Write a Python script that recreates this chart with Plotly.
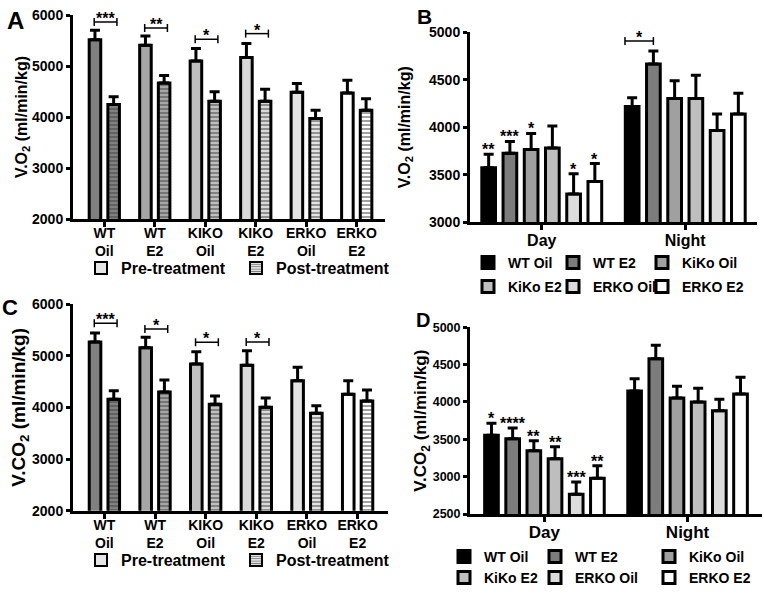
import plotly.graph_objects as go

# ---------------- data ----------------
groups_ac = ["WT<br>Oil", "WT<br>E2", "KIKO<br>Oil", "KIKO<br>E2", "ERKO<br>Oil", "ERKO<br>E2"]

vo2_pre = [5517, 5406, 5100, 5165, 4486, 4473]
vo2_pre_err = [183, 183, 241, 274, 170, 248]
vo2_post = [4245, 4669, 4310, 4310, 3970, 4134]
vo2_post_err = [150, 143, 183, 235, 164, 222]
vo2_sig = ["***", "**", "*", "*"]
vo2_sig_y = [5863, 5745, 5524, 5635]

vco2_pre = [5265, 5155, 4839, 4813, 4516, 4252]
vco2_pre_err = [174, 200, 238, 284, 258, 264]
vco2_post = [4155, 4297, 4058, 4000, 3884, 4123]
vco2_post_err = [168, 232, 161, 181, 148, 212]
vco2_sig = ["***", "*", "*", "*"]
vco2_sig_y = [5626, 5516, 5258, 5265]

periods = ["Day", "Night"]
genotypes = ["WT Oil", "WT E2", "KiKo Oil", "KiKo E2", "ERKO Oil", "ERKO E2"]

vo2_day = [3573, 3728, 3767, 3781, 3299, 3429]
vo2_day_err = [144, 123, 168, 232, 211, 190]
vo2_night = [4218, 4667, 4302, 4302, 3965, 4140]
vo2_night_err = [94, 137, 189, 245, 175, 218]
vo2_day_sig = ["**", "***", "*", "", "*", "*"]
vo2_night_sig = ["*"]
vo2_night_sig_y = [4909]

vco2_day = [3554, 3509, 3348, 3241, 2763, 2978]
vco2_day_err = [160, 143, 134, 161, 166, 169]
vco2_night = [4147, 4580, 4054, 4000, 3884, 4107]
vco2_night_err = [165, 179, 156, 183, 152, 223]
vco2_day_sig = ["*", "****", "**", "**", "***", "**"]

# ---------------- styles ----------------
FONT = "Liberation Sans, Arial, sans-serif"
pre_colors = ["#808080", "#a6a6a6", "#c0c0c0", "#d9d9d9", "#e4e4e4", "#ffffff"]
geno_colors = ["#000000", "#7c7c7c", "#a0a0a0", "#bebebe", "#dcdcdc", "#ffffff"]
AC_W, AC_SHIFT = 0.229, 0.185
BD_SLOT, BD_W = 0.148, 0.0955
W, H = 764, 596


def px(v):
    return v / W


def py(v):
    return 1 - v / H


fig = go.Figure()
idx = list(range(len(groups_ac)))


def err(arr, th=3, w=5):
    return dict(type="data", array=arr, arrayminus=[0] * len(arr), symmetric=False,
                color="black", thickness=th, width=w, visible=True)


def add_ac(xa, ya, pre, pre_err, post, post_err, legend):
    fig.add_trace(go.Bar(x=idx, y=pre, xaxis=xa, yaxis=ya, width=AC_W, offset=-AC_SHIFT - AC_W / 2,
                         marker=dict(color=pre_colors, line=dict(color="black", width=3)),
                         error_y=err(pre_err), showlegend=False, name="Pre-treatment"))
    fig.add_trace(go.Bar(x=idx, y=post, xaxis=xa, yaxis=ya, width=AC_W, offset=AC_SHIFT - AC_W / 2,
                         marker=dict(color=pre_colors, line=dict(color="black", width=3),
                                     pattern=dict(shape="-", fgcolor="black", bgcolor=pre_colors,
                                                  size=4, solidity=0.5)),
                         error_y=err(post_err), showlegend=False, name="Post-treatment"))
    # legend swatches
    fig.add_trace(go.Bar(x=[None], y=[None], xaxis=xa, yaxis=ya, name="Pre-treatment", legend=legend,
                         marker=dict(color="#e6e6e6", line=dict(color="black", width=2))))
    fig.add_trace(go.Bar(x=[None], y=[None], xaxis=xa, yaxis=ya, name="Post-treatment", legend=legend,
                         marker=dict(color="white", line=dict(color="black", width=2),
                                     pattern=dict(shape="-", fgcolor="black", bgcolor="white",
                                                  size=3, solidity=0.5))))


def add_bd(xa, ya, day, day_err, night, night_err, legs):
    for i, g in enumerate(genotypes):
        off = (i - 2.5) * BD_SLOT
        fig.add_trace(go.Bar(x=[0, 1], y=[day[i], night[i]], xaxis=xa, yaxis=ya, name=g,
                             width=BD_W, offset=off - BD_W / 2,
                             marker=dict(color=geno_colors[i], line=dict(color="black", width=3)),
                             error_y=err([day_err[i], night_err[i]]), legend=legs[i]))


legs_b = ["legend%d" % k for k in range(2, 8)]
legs_d = ["legend%d" % k for k in range(9, 15)]

add_ac("x", "y", vo2_pre, vo2_pre_err, vo2_post, vo2_post_err, "legend")
add_bd("x2", "y2", vo2_day, vo2_day_err, vo2_night, vo2_night_err, legs_b)
add_ac("x3", "y3", vco2_pre, vco2_pre_err, vco2_post, vco2_post_err, "legend8")
add_bd("x4", "y4", vco2_day, vco2_day_err, vco2_night, vco2_night_err, legs_d)

shapes, annos = [], []
STAR = dict(family=FONT, size=16, color="black", weight="bold")


def bracket(xr, yr, x0, x1, y, text):
    shapes.append(dict(type="line", xref=xr, yref=yr, x0=x0, x1=x1, y0=y, y1=y,
                       line=dict(color="black", width=1.5)))
    for xx in (x0, x1):
        shapes.append(dict(type="line", xref=xr, yref=yr, x0=xx, x1=xx, ysizemode="pixel",
                           yanchor=y, y0=-4, y1=4, line=dict(color="black", width=1.5)))
    annos.append(dict(xref=xr, yref=yr, x=(x0 + x1) / 2, y=y, text=text, showarrow=False,
                      yanchor="bottom", yshift=-7, font=STAR))


for i, (s, y) in enumerate(zip(vo2_sig, vo2_sig_y)):
    bracket("x", "y", i - 0.2, i + 0.25, y, s)
for i, (s, y) in enumerate(zip(vco2_sig, vco2_sig_y)):
    bracket("x3", "y3", i - 0.2, i + 0.25, y, s)
for s, y in zip(vo2_night_sig, vo2_night_sig_y):
    bracket("x2", "y2", 1 - 2.5 * BD_SLOT - 0.05, 1 - 1.5 * BD_SLOT, y, s)

for xr, yr, vals, errs, sig in (("x2", "y2", vo2_day, vo2_day_err, vo2_day_sig),
                                ("x4", "y4", vco2_day, vco2_day_err, vco2_day_sig)):
    for i, s in enumerate(sig):
        if s:
            annos.append(dict(xref=xr, yref=yr, x=(i - 2.5) * BD_SLOT, y=vals[i] + errs[i], text=s,
                              showarrow=False, yanchor="bottom", yshift=-6, font=STAR))

for lab, x, y, size in (("A", 15, 21, 24), ("B", 425, 17, 21), ("C", 10, 307, 22), ("D", 423, 320, 20)):
    annos.append(dict(xref="paper", yref="paper", x=px(x), y=py(y), xanchor="center", yanchor="middle",
                      text=lab, showarrow=False, font=dict(family=FONT, size=size, color="black", weight="bold")))


def xax(domain, anchor, rng, vals, text, fs, so):
    return dict(domain=domain, anchor=anchor, range=rng, tickvals=vals, ticktext=text, tickangle=0,
                showline=True, linecolor="black", linewidth=3, ticks="outside", ticklen=5,
                tickwidth=3, tickcolor="black", showgrid=False, zeroline=False, automargin=False,
                ticklabelstandoff=so,
                tickfont=dict(family=FONT, size=fs, color="black", weight="bold"), fixedrange=True)


def yax(domain, anchor, rng, dtick, title, tfs, fs, standoff):
    return dict(domain=domain, anchor=anchor, range=rng, dtick=dtick,
                showline=True, linecolor="black", linewidth=3, ticks="outside", ticklen=4,
                tickwidth=3, tickcolor="black", showgrid=False, zeroline=False, automargin=False,
                tickfont=dict(family=FONT, size=fs, color="black", weight="bold"),
                title=dict(text=title, standoff=standoff,
                           font=dict(family=FONT, size=tfs, color="black", weight="bold")),
                fixedrange=True)


def leg(x, y, fs, ew=0):
    d = dict(orientation="h", x=px(x), y=py(y), xanchor="left", yanchor="middle",
             bgcolor="rgba(0,0,0,0)", font=dict(family=FONT, size=fs, color="black", weight="bold"),
             itemclick=False, itemdoubleclick=False)
    if ew:
        d.update(entrywidth=ew, entrywidthmode="pixels")
    return d


legend_layout = {"legend": leg(81, 268, 16, 110), "legend8": leg(81, 560, 16, 110)}
b_cols, b_rows = [468, 553, 642], [263, 287]
d_cols, d_rows = [444, 535, 649], [557, 578]
for k, name in enumerate(legs_b):
    legend_layout[name] = leg(b_cols[k % 3], b_rows[k // 3], 14)
for k, name in enumerate(legs_d):
    legend_layout[name] = leg(d_cols[k % 3], d_rows[k // 3], 14)

fig.update_layout(
    width=W, height=H, margin=dict(l=0, r=0, t=0, b=0, autoexpand=False),
    paper_bgcolor="white", plot_bgcolor="white", barmode="overlay", showlegend=True,
    font=dict(family=FONT, color="black"),
    xaxis=xax([px(73), px(385)], "y", [-0.62, 5.56], idx, groups_ac, 14, -6),
    yaxis=yax([py(219), py(15)], "x", [2000, 6000], 1000, "V.O<sub>2</sub> (ml/min/kg)", 16, 14, 0),
    xaxis2=xax([px(470), px(757)], "y2", [-0.5, 1.5], [0, 1], periods, 16, -4),
    yaxis2=yax([py(222.3), py(32.3)], "x2", [3000, 5000], 500, "V.O<sub>2</sub> (ml/min/kg)", 16, 14, 15),
    xaxis3=xax([px(73), px(388)], "y3", [-0.62, 5.6], idx, groups_ac, 14, -6),
    yaxis3=yax([py(510.7), py(304)], "x3", [2000, 6000], 1000, "V.CO<sub>2</sub> (ml/min/kg)", 19, 14, 0),
    xaxis4=xax([px(470), px(762)], "y4", [-0.52, 1.52], [0, 1], periods, 17, -4),
    yaxis4=yax([py(514), py(327.3)], "x4", [2500, 5000], 500, "V.CO<sub>2</sub> (ml/min/kg)", 17, 12.5, 0),
    shapes=shapes, annotations=annos,
    **legend_layout,
)

fig.write_html("out.html", config={"displayModeBar": False},
               post_script="document.body.style.margin='0px';")
